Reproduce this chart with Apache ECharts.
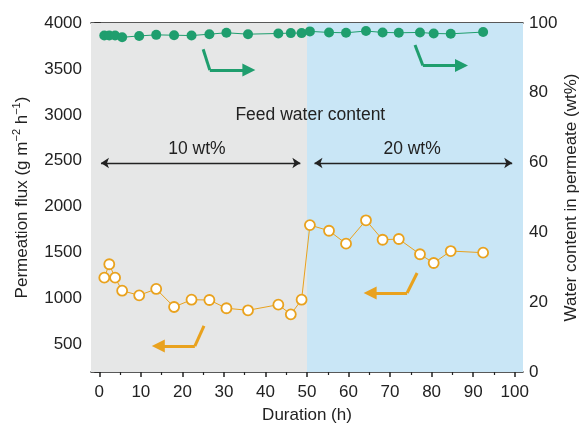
<!DOCTYPE html>
<html><head><meta charset="utf-8">
<script src="https://cdn.jsdelivr.net/npm/echarts@6/dist/echarts.min.js"></script>
<style>html,body{margin:0;padding:0;background:#fff}#c{width:582px;height:426px}</style>
</head><body><div id="c"></div>
<script>
const times = [1.2, 2.4, 3.8, 5.5, 9.6, 13.7, 18, 22.2, 26.5, 30.6, 35.8, 43.1, 46.1, 48.7, 50.7, 55.3, 59.4, 64.2, 68.2, 72.1, 77.2, 80.5, 84.6, 92.4];
const flux = [1227, 1373, 1227, 1085, 1035, 1104, 908, 987, 984, 894, 872, 933, 828, 987, 1800, 1738, 1597, 1852, 1640, 1648, 1482, 1387, 1517, 1499];
const waterContent = [96.4, 96.4, 96.4, 95.9, 96.3, 96.6, 96.5, 96.4, 96.8, 97.2, 96.8, 97.0, 97.1, 97.1, 97.6, 97.3, 97.2, 97.7, 97.3, 97.2, 97.3, 97.0, 96.9, 97.4];
const xTickLabels = [0, 10, 20, 30, 40, 50, 60, 70, 80, 90, 100];
const xMinorTicks = [5, 15, 25, 35, 45, 55, 65, 75, 85, 95];
const yLeftLabels = [500, 1000, 1500, 2000, 2500, 3000, 3500, 4000];
const yLeftMinor = [250, 750, 1250, 1750, 2250, 2750, 3250, 3750];
const feedRegions = [[-2, 50, '#e6e7e7'], [50, 102, '#c9e6f6']];
const feedLabels = [['10 wt%', 23.5, 2628], ['20 wt%', 75.3, 2628]];

const FONT = 'Liberation Sans, Arial, sans-serif';
const GREEN = '#1f9e6e';
const ORANGE = '#e9a21e';
const AX = '#222';
const chart = echarts.init(document.getElementById('c'));

const xBase = {type: 'value', min: -2, max: 102, splitLine: {show: false}, gridIndex: 0};
const axisLine = {show: true, lineStyle: {color: AX, width: 1.5}};
const plain = v => String(v);

chart.setOption({
  animation: false,
  grid: {left: 91, right: 59, top: 23, bottom: 54, containLabel: false, outerBoundsMode: 'none'},
  xAxis: [
    Object.assign({}, xBase, {
      position: 'bottom', axisLine: axisLine,
      name: 'Duration (h)', nameLocation: 'middle', nameGap: 35, nameMoveOverlap: false,
      nameTextStyle: {fontFamily: FONT, fontSize: 17, color: '#222'},
      axisTick: {show: true, customValues: xTickLabels, length: 5, lineStyle: {color: AX, width: 1.5}},
      axisLabel: {show: true, customValues: xTickLabels, formatter: plain, margin: 12, fontFamily: FONT, fontSize: 17, color: '#222'}
    }),
    Object.assign({}, xBase, {
      position: 'bottom', axisLine: {show: false},
      axisTick: {show: true, customValues: xMinorTicks, length: 3, lineStyle: {color: AX, width: 1.2}},
      axisLabel: {show: false}
    }),
    Object.assign({}, xBase, {
      position: 'top', axisLine: axisLine, axisTick: {show: false}, axisLabel: {show: false}
    })
  ],
  yAxis: [
    {
      type: 'value', min: 200, max: 4000, position: 'left', splitLine: {show: false},
      axisLine: axisLine,
      axisTick: {show: true, customValues: yLeftLabels, length: 5, lineStyle: {color: AX, width: 1.5}},
      axisLabel: {show: true, customValues: yLeftLabels, formatter: plain, margin: 9, fontFamily: FONT, fontSize: 17, color: '#222'},
      name: 'Permeation flux (g m{sup|−2} h{sup|−1})', nameLocation: 'middle', nameGap: 58, nameMoveOverlap: false,
      nameTextStyle: {fontFamily: FONT, fontSize: 17, color: '#222', lineHeight: 22,
        rich: {sup: {fontFamily: FONT, fontSize: 11, color: '#222', verticalAlign: 'top', lineHeight: 22}}}
    },
    {
      type: 'value', min: 0, max: 100, interval: 20, position: 'right', splitLine: {show: false},
      axisLine: axisLine,
      axisTick: {show: true, inside: true, length: 5, lineStyle: {color: AX, width: 1.5}},
      minorTick: {show: true, splitNumber: 2, length: 3, lineStyle: {color: AX, width: 1.2}},
      axisLabel: {show: true, formatter: plain, margin: 6, fontFamily: FONT, fontSize: 17, color: '#222'},
      name: 'Water content in permeate (wt%)', nameLocation: 'middle', nameGap: 40, nameMoveOverlap: false,
      nameTextStyle: {fontFamily: FONT, fontSize: 17, color: '#222'}
    },
    {
      type: 'value', min: 200, max: 4000, position: 'left', splitLine: {show: false},
      axisLine: {show: false},
      axisTick: {show: true, customValues: yLeftMinor, length: 3, lineStyle: {color: AX, width: 1.2}},
      axisLabel: {show: false}
    }
  ],
  series: [
    {
      type: 'line', xAxisIndex: 0, yAxisIndex: 0, data: [], silent: true, z: 0,
      markArea: {silent: true, data: feedRegions.map(r => [{xAxis: r[0], itemStyle: {color: r[2]}}, {xAxis: r[1]}])}
    },
    {
      type: 'lines', coordinateSystem: 'cartesian2d', xAxisIndex: 0, yAxisIndex: 0, z: 3,
      symbol: ['arrow', 'arrow'], symbolSize: 8,
      lineStyle: {color: '#222', width: 1.3, opacity: 1},
      data: [{coords: [[0.4, 2476], [48.4, 2476]]}, {coords: [[51.8, 2476], [99.4, 2476]]}]
    },
    {
      type: 'lines', coordinateSystem: 'cartesian2d', xAxisIndex: 0, yAxisIndex: 1, z: 3,
      symbol: ['none', 'none'], lineStyle: {color: GREEN, width: 3, opacity: 1},
      data: [{coords: [[25.0, 92.5], [26.6, 86.5]]}, {coords: [[76.0, 93.7], [77.9, 87.8]]}]
    },
    {
      type: 'lines', coordinateSystem: 'cartesian2d', xAxisIndex: 0, yAxisIndex: 1, z: 3,
      symbol: ['none', 'triangle'], symbolSize: 13, lineStyle: {color: GREEN, width: 3, opacity: 1},
      data: [{coords: [[26.6, 86.5], [36.0, 86.5]]}, {coords: [[77.9, 87.8], [87.2, 87.8]]}]
    },
    {
      type: 'lines', coordinateSystem: 'cartesian2d', xAxisIndex: 0, yAxisIndex: 0, z: 3,
      symbol: ['none', 'none'], lineStyle: {color: ORANGE, width: 3, opacity: 1},
      data: [{coords: [[25.2, 701], [23.0, 483]]}, {coords: [[76.5, 1278], [74.1, 1060]]}]
    },
    {
      type: 'lines', coordinateSystem: 'cartesian2d', xAxisIndex: 0, yAxisIndex: 0, z: 3,
      symbol: ['none', 'triangle'], symbolSize: 13, lineStyle: {color: ORANGE, width: 3, opacity: 1},
      data: [{coords: [[23.0, 483], [14.2, 483]]}, {coords: [[74.1, 1060], [65.2, 1060]]}]
    },
    {
      name: 'Water content', type: 'line', xAxisIndex: 0, yAxisIndex: 1, z: 5,
      data: times.map((t, i) => [t, waterContent[i]]),
      symbol: 'circle', symbolSize: 10, showSymbol: true,
      itemStyle: {color: GREEN, borderWidth: 0},
      lineStyle: {color: GREEN, width: 1}
    },
    {
      name: 'Flux', type: 'line', xAxisIndex: 0, yAxisIndex: 0, z: 5,
      data: times.map((t, i) => [t, flux[i]]),
      symbol: 'circle', symbolSize: 10, showSymbol: true,
      itemStyle: {color: '#fff', borderColor: ORANGE, borderWidth: 1.8},
      lineStyle: {color: ORANGE, width: 1}
    }
  ]
});

function px(x, y) { return chart.convertToPixel({xAxisIndex: 0, yAxisIndex: 0}, [x, y]); }
const graphics = [];
const fp = px(50.8, 3000);
graphics.push({type: 'text', x: fp[0], y: fp[1], z: 10,
  style: {text: 'Feed water content', font: '17.5px ' + FONT, fill: '#222', textAlign: 'center', textVerticalAlign: 'middle'}});
feedLabels.forEach(l => {
  const p = px(l[1], l[2]);
  graphics.push({type: 'text', x: p[0], y: p[1], z: 10,
    style: {text: l[0], font: '17.5px ' + FONT, fill: '#222', textAlign: 'center', textVerticalAlign: 'middle'}});
});
chart.setOption({graphic: graphics});
</script></body></html>
